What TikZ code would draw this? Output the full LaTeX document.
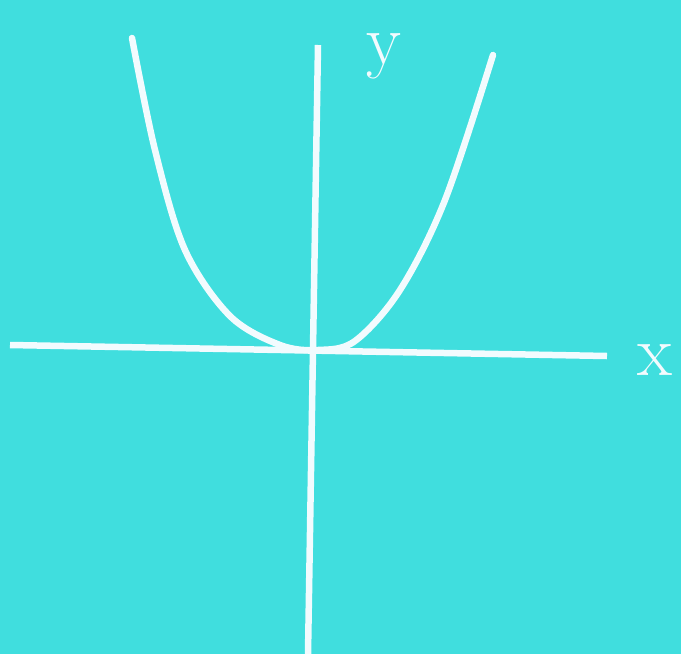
\documentclass[tikz,border=0pt]{standalone}
\begin{document}
\begin{tikzpicture}[x=1pt,y=-1pt,
  axis/.style={draw=white!95!cyan,line width=6.5pt},
  curve/.style={draw=white!95!cyan,line width=6.5pt,line cap=round},
  lbl/.style={text=white!95!cyan,font=\fontsize{72}{72}\selectfont}]
\definecolor{bg}{RGB}{64,222,222}
\fill[bg] (0,0) rectangle (681,654);
\useasboundingbox (0,0) rectangle (681,654);
\coordinate (xl) at (10,345);
\coordinate (xr) at (607,356);
\coordinate (yt) at (318,45);
\coordinate (yb) at (308,654);
\draw[axis] (xl) -- (xr);
\draw[axis] (yt) -- (yb);
\draw[curve] plot[smooth,tension=0.55] coordinates {(132,38) (155,150) (185,250) (230,316) (280,345) (318,350) (355,341) (400,290) (445,200) (493,55)};
\node[lbl] (ylab) at (384,56) {y};
\node[lbl] (xlab) at (655,360) {x};
\end{tikzpicture}
\end{document}
